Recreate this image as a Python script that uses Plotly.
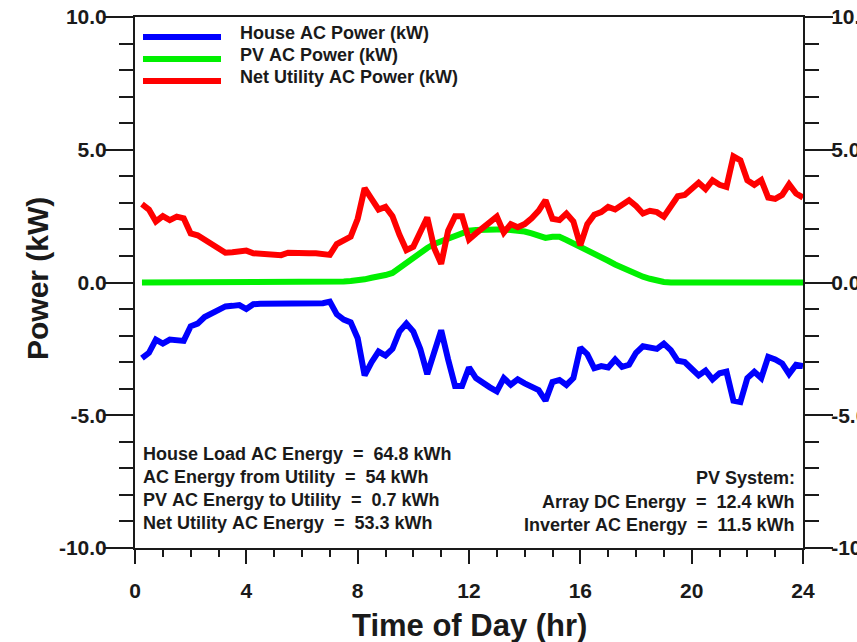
import plotly.graph_objects as go

# Time of day, 15-minute steps (hr)
hours = [i * 0.25 for i in range(1, 97)]

# House AC power (kW), shown as a load (negative)
house_kw = [
    -2.85, -2.65, -2.15, -2.30, -2.15, -2.20, -2.20, -1.65,
    -1.55, -1.30, -1.15, -1.00, -0.90, -0.88, -0.85, -1.00,
    -0.82, -0.80, -0.80, -0.78, -0.75, -0.78, -0.78, -0.78,
    -0.78, -0.78, -0.78, -0.72, -1.20, -1.40, -1.50, -2.10,
    -3.50, -3.00, -2.60, -2.75, -2.50, -1.85, -1.55, -1.85,
    -2.50, -3.45, -2.60, -1.80, -2.90, -3.90, -3.90, -3.20,
    -3.60, -3.80, -3.95, -4.10, -3.60, -3.85, -3.65, -3.80,
    -3.95, -4.05, -4.45, -3.75, -3.67, -3.86, -3.60, -2.45,
    -2.70, -3.23, -3.15, -3.20, -2.90, -3.18, -3.10, -2.65,
    -2.40, -2.45, -2.50, -2.30, -2.55, -2.95, -3.00, -3.25,
    -3.50, -3.32, -3.65, -3.42, -3.36, -4.45, -4.50, -3.60,
    -3.36, -3.60, -2.80, -2.90, -3.05, -3.45, -3.10, -3.15,
]

# PV AC power (kW)
pv_kw = [
    0.00, 0.00, 0.00, 0.00, 0.00, 0.00, 0.00, 0.00,
    0.00, 0.00, 0.00, 0.00, 0.00, 0.00, 0.00, 0.00,
    0.00, 0.00, 0.00, 0.00, 0.00, 0.00, 0.00, 0.00,
    0.00, 0.00, 0.00, 0.00, 0.02, 0.04, 0.06, 0.08,
    0.12, 0.18, 0.22, 0.28, 0.36, 0.55, 0.75, 0.95,
    1.15, 1.30, 1.45, 1.55, 1.70, 1.80, 1.88, 1.95,
    1.98, 2.00, 2.00, 2.00, 2.00, 1.98, 1.96, 1.92,
    1.85, 1.75, 1.68, 1.72, 1.72, 1.60, 1.48, 1.36,
    1.22, 1.08, 0.95, 0.82, 0.68, 0.55, 0.42, 0.32,
    0.22, 0.14, 0.06, 0.02, 0.00, 0.00, 0.00, 0.00,
    0.00, 0.00, 0.00, 0.00, 0.00, 0.00, 0.00, 0.00,
    0.00, 0.00, 0.00, 0.00, 0.00, 0.00, 0.00, 0.00,
]

# Net utility AC power (kW)
net_kw = [
    2.95, 2.75, 2.30, 2.50, 2.35, 2.48, 2.42, 1.85,
    1.78, 1.60, 1.45, 1.30, 1.12, 1.14, 1.16, 1.20,
    1.10, 1.08, 1.08, 1.06, 1.03, 1.12, 1.10, 1.10,
    1.10, 1.10, 1.08, 1.04, 1.45, 1.62, 1.73, 2.40,
    3.55, 3.15, 2.75, 2.85, 2.50, 1.80, 1.22, 1.35,
    1.85, 2.45, 1.30, 0.70, 1.95, 2.50, 2.50, 1.62,
    1.85, 2.05, 2.25, 2.48, 1.88, 2.20, 2.08, 2.20,
    2.42, 2.70, 3.10, 2.40, 2.35, 2.60, 2.30, 1.40,
    2.20, 2.55, 2.65, 2.85, 2.75, 2.95, 3.10, 2.88,
    2.60, 2.70, 2.65, 2.48, 2.92, 3.25, 3.30, 3.50,
    3.76, 3.52, 3.85, 3.68, 3.60, 4.75, 4.60, 3.85,
    3.68, 3.86, 3.20, 3.15, 3.30, 3.70, 3.35, 3.20,
]

series_names = ["House AC Power (kW)", "PV AC Power (kW)", "Net Utility AC Power (kW)"]
series_colors = ["#0000ff", "#00f000", "#ff0000"]

x_ticks = [0, 4, 8, 12, 16, 20, 24]
y_ticks = [-10, -5, 0, 5, 10]
y_tick_text = ["-10.0", "-5.0", "0.0", "5.0", "10.0"]

energy_left = [
    "House Load AC Energy  =  64.8 kWh",
    "AC Energy from Utility  =  54 kWh",
    "PV AC Energy to Utility  =  0.7 kWh",
    "Net Utility AC Energy  =  53.3 kWh",
]
energy_right = [
    "PV System:",
    "Array DC Energy  =  12.4 kWh",
    "Inverter AC Energy  =  11.5 kWh",
]

FONT = "Liberation Sans, Arial, Helvetica, sans-serif"
INK = "#1a1a1a"
W, H = 857, 642
L, R, T, B = 135, 54, 17, 94
PW, PH = W - L - R, H - T - B


def px_x(p):
    return (p - L) / PW


def px_y(p):
    return (H - B - p) / PH


def nb(s):
    return s.replace(" ", "\u00a0")


fig = go.Figure()
for vals, name, col in zip([house_kw, pv_kw, net_kw], series_names, series_colors):
    fig.add_trace(go.Scatter(x=hours, y=vals, mode="lines", name=name,
                             line=dict(color=col, width=6), showlegend=False))
# empty trace so the right-hand mirror axis is rendered
fig.add_trace(go.Scatter(x=[None], y=[None], yaxis="y2", showlegend=False, hoverinfo="skip"))

tickfont = dict(family=FONT, size=21, color=INK, weight="bold")
axis_common = dict(showgrid=False, zeroline=False, showline=True, linecolor=INK,
                   linewidth=2, ticks="outside", tickcolor=INK, tickwidth=2)
y_minor = dict(dtick=1, ticklen=14, ticks="outside", tickcolor=INK, tickwidth=2)

fig.update_layout(
    width=W, height=H,
    margin=dict(l=L, r=R, t=T, b=B, autoexpand=False),
    paper_bgcolor="white", plot_bgcolor="white",
    xaxis=dict(range=[0, 24], tickvals=x_ticks, ticklen=14, mirror=True,
               minor=dict(dtick=1, ticklen=7, ticks="outside", tickcolor=INK, tickwidth=2),
               tickfont=tickfont, ticklabelstandoff=9, **axis_common),
    yaxis=dict(range=[-10, 10], tickvals=y_ticks, ticktext=y_tick_text, ticklen=28,
               minor=y_minor, tickfont=tickfont, ticklabelstandoff=-6, **axis_common),
    yaxis2=dict(range=[-10, 10], tickvals=y_ticks, ticktext=y_tick_text, ticklen=28,
                overlaying="y", side="right", anchor="x",
                minor=y_minor, tickfont=tickfont, ticklabelstandoff=-6, **axis_common),
)

annotations = []
shapes = []

# axis titles
annotations.append(dict(text="Time of Day (hr)", xref="paper", yref="paper",
                        x=px_x(469), y=px_y(625), xanchor="center", yanchor="middle",
                        showarrow=False, font=dict(family=FONT, size=31, color=INK, weight="bold")))
annotations.append(dict(text="Power (kW)", xref="paper", yref="paper", textangle=-90,
                        x=px_x(37), y=px_y(279), xanchor="center", yanchor="middle",
                        showarrow=False, font=dict(family=FONT, size=30, color=INK, weight="bold")))

# legend block
leg_font = dict(family=FONT, size=18, color=INK, weight="bold")
for i, (name, col) in enumerate(zip(series_names, series_colors)):
    ly = 37 + i * 22
    shapes.append(dict(type="line", xref="paper", yref="paper",
                       x0=px_x(143), x1=px_x(221), y0=px_y(ly), y1=px_y(ly),
                       line=dict(color=col, width=6)))
    annotations.append(dict(text=nb(name), xref="paper", yref="paper",
                            x=px_x(238), y=px_y(ly - 4), xanchor="left", yanchor="middle",
                            showarrow=False, font=leg_font))

# energy summaries
for i, s in enumerate(energy_left):
    annotations.append(dict(text=nb(s), xref="paper", yref="paper",
                            x=px_x(141), y=px_y(454 + i * 23), xanchor="left", yanchor="middle",
                            showarrow=False, font=leg_font))
for i, s in enumerate(energy_right):
    annotations.append(dict(text=nb(s), xref="paper", yref="paper",
                            x=px_x(797), y=px_y(478 + i * 23.5), xanchor="right", yanchor="middle",
                            showarrow=False, font=leg_font))

fig.update_layout(annotations=annotations, shapes=shapes)
fig.write_html("out.html")
